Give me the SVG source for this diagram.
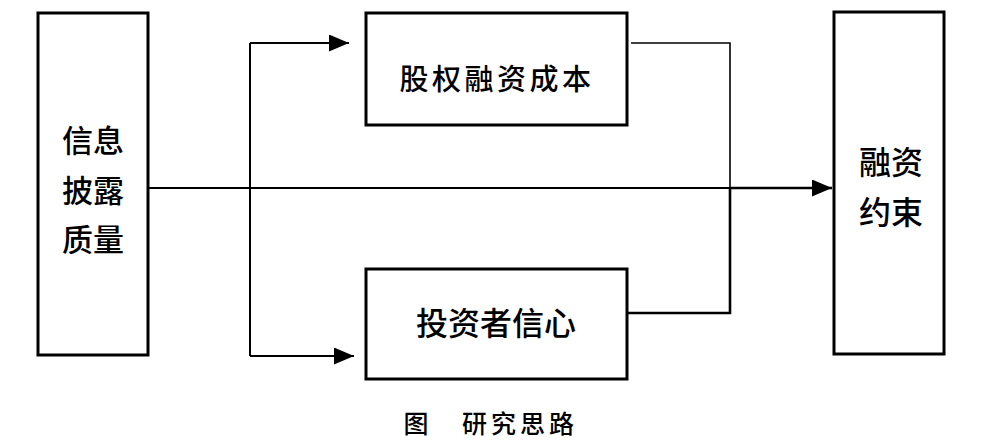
<svg xmlns="http://www.w3.org/2000/svg" width="990" height="448" viewBox="0 0 990 448">
<style>
.box{fill:#fff;stroke:#000;stroke-width:3}
.t{font-family:"Noto Sans CJK SC","Noto Sans",sans-serif;fill:#000;text-anchor:middle;dominant-baseline:central;font-weight:500}
.c{fill:none;stroke:#000;stroke-width:2}
</style>
<defs>
<marker id="ah" markerUnits="userSpaceOnUse" markerWidth="21" markerHeight="18" refX="20" refY="8.5" orient="auto">
<path d="M0,0 L20,8.5 L0,17 z" fill="#000"/>
</marker>
</defs>
<rect width="990" height="448" fill="#fff"/>
<g id="connectors">
<path class="c" d="M148,188 H731"/>
<path class="c" style="stroke-width:2.6" d="M729,188 H832" marker-end="url(#ah)"/>
<path class="c" d="M250,43 V356"/>
<path class="c" d="M250,43 H349" marker-end="url(#ah)"/>
<path class="c" d="M250,356 H354" marker-end="url(#ah)"/>
<path class="c" style="stroke-width:1.6" d="M631,43 H730 V188"/>
<path class="c" style="stroke-width:2.6" d="M730,188 V313 H627"/>
</g>
<g id="n-info">
<rect class="box" x="38" y="13" width="110" height="342"/>
<text class="t" x="93" y="138" font-size="31">信息</text>
<text class="t" x="93" y="188" font-size="31">披露</text>
<text class="t" x="93" y="237" font-size="31">质量</text>
</g>
<g id="n-cost">
<rect class="box" x="366" y="13" width="261" height="112"/>
<text class="t" x="497" y="77" font-size="29" letter-spacing="3.5">股权融资成本</text>
</g>
<g id="n-conf">
<rect class="box" x="366" y="269" width="261" height="110"/>
<text class="t" x="496" y="321" font-size="32">投资者信心</text>
</g>
<g id="n-constraint">
<rect class="box" x="834" y="12" width="110" height="342"/>
<text class="t" x="891" y="160" font-size="32">融资</text>
<text class="t" x="891" y="210" font-size="32">约束</text>
</g>
<g id="caption">
<text class="t" x="416" y="422" font-size="25" font-weight="700">图</text>
<text class="t" x="520" y="422" font-size="25" font-weight="700" letter-spacing="4">研究思路</text>
</g>
</svg>
